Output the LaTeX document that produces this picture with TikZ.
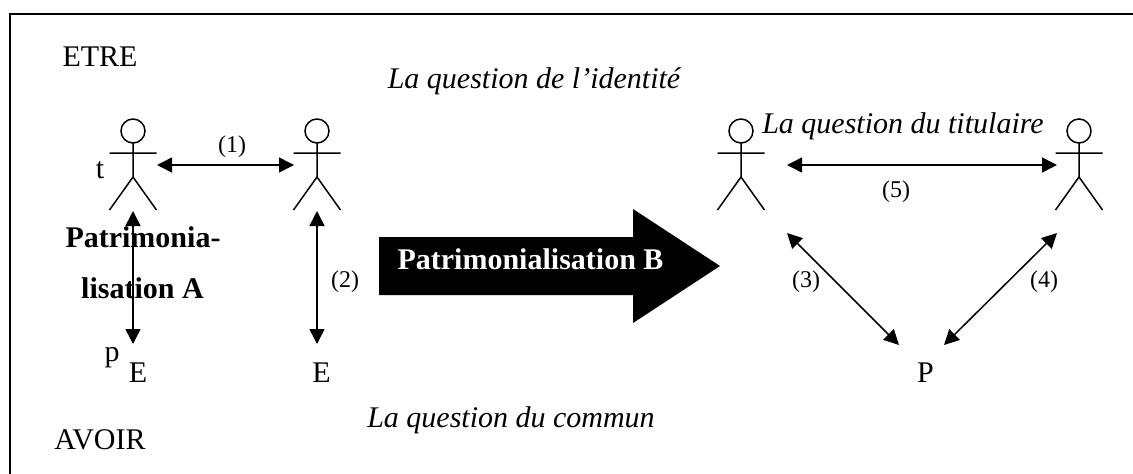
\documentclass[tikz,border=0pt]{standalone}
\usepackage{fontspec}
\setmainfont{Liberation Serif}
\usetikzlibrary{arrows.meta}
\tikzset{
  x=1pt,y=-1pt,
  lbl/.style={inner sep=0pt,font=\fontsize{30}{34}\selectfont,text=black,anchor=base},
  small/.style={inner sep=0pt,font=\fontsize{24}{28}\selectfont,text=black,anchor=base},
  ital/.style={lbl,font=\fontsize{30}{34}\selectfont\itshape},
  bold/.style={lbl,font=\fontsize{30}{34}\selectfont\bfseries},
  stick/.style={line width=1.5pt,black},
  dbl/.style={line width=1.5pt,black,{Triangle[length=15pt,width=15pt]}-{Triangle[length=15pt,width=15pt]}},
}
\newcommand{\actor}[1]{%
  \draw[stick] (#1,131) circle[radius=12];
  \draw[stick] (#1,143) -- (#1,177) (#1-23.5,153) -- (#1+23.5,153) (#1-23.5,210) -- (#1,177) -- (#1+23.5,210);
}
\begin{document}
\begin{tikzpicture}
\useasboundingbox (0,0) rectangle (1133,474);
\fill[white] (0,0) rectangle (1133,474);
\draw[line width=1.8pt,black] (10,480) -- (10,14) -- (1140,14);
\actor{133}
\actor{317}
\actor{741}
\actor{1079}
\coordinate (a1) at (157,165); \coordinate (b1) at (294,165);
\coordinate (a2) at (133,211); \coordinate (a3) at (133,344);
\coordinate (b2) at (317,211); \coordinate (b3) at (317,344);
\coordinate (c1) at (787,165); \coordinate (d1) at (1057,165);
\coordinate (c2) at (787,233); \coordinate (p1) at (899,345);
\coordinate (d2) at (1057,233); \coordinate (p2) at (944,345);
\draw[dbl] (a1) -- (b1);
\draw[dbl] (a2) -- (a3);
\draw[dbl] (b2) -- (b3);
\draw[dbl] (c1) -- (d1);
\draw[dbl] (c2) -- (p1);
\draw[dbl] (d2) -- (p2);
\fill[black] (379,237) -- (633,237) -- (633,209) -- (720,266) -- (633,323) -- (633,295) -- (379,295) -- cycle;
\node[lbl] (etre) at (100,66) {ETRE};
\node[lbl] (avoir) at (100,449) {AVOIR};
\node[ital] (q1) at (534,88) {La question de l’identité};
\node[ital] (q2) at (903,133) {La question du titulaire};
\node[ital] (q3) at (511,427) {La question du commun};
\node[small] (n1) at (232,152) {(1)};
\node[small] (n2) at (345,287) {(2)};
\node[small] (n3) at (806,287) {(3)};
\node[small] (n4) at (1044,287) {(4)};
\node[small] (n5) at (896,197) {(5)};
\node[lbl] (t) at (100,178) {t};
\node[lbl] (p) at (112,361) {p};
\node[lbl] (e1) at (138,382) {E};
\node[lbl] (e2) at (321.5,382) {E};
\node[lbl] (pp) at (925.5,382) {P};
\node[bold] (pa1) at (143,247) {Patrimonia-};
\node[bold] (pa2) at (142.5,298) {lisation A};
\node[bold,text=white] (pb) at (530.5,269) {Patrimonialisation B};
\end{tikzpicture}
\end{document}
